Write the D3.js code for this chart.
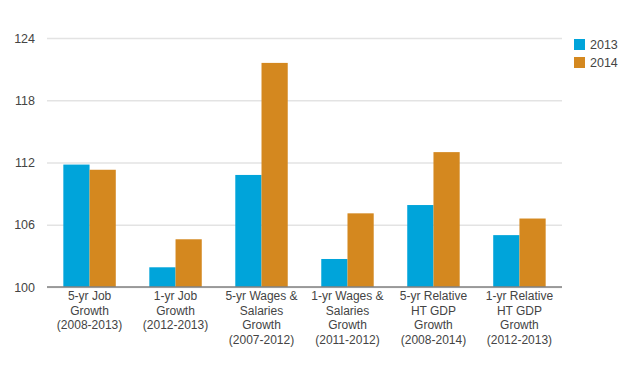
<!DOCTYPE html>
<html>
<head>
<meta charset="utf-8">
<script src="https://cdn.jsdelivr.net/npm/d3@7"></script>
<style>
  body { margin: 0; background: #fff; }
  text { font-family: "Liberation Sans", Arial, sans-serif; }
</style>
</head>
<body>
<div id="chart"></div>
<script>
// categories (each label split into lines)
const categories = [
  ["5-yr Job", "Growth", "(2008-2013)"],
  ["1-yr Job", "Growth", "(2012-2013)"],
  ["5-yr Wages &", "Salaries", "Growth", "(2007-2012)"],
  ["1-yr Wages &", "Salaries", "Growth", "(2011-2012)"],
  ["5-yr Relative", "HT GDP", "Growth", "(2008-2014)"],
  ["1-yr Relative", "HT GDP", "Growth", "(2012-2013)"]
];
const seriesNames = ["2013", "2014"];
const values2013 = [111.8, 101.9, 110.8, 102.7, 107.9, 105.0];
const values2014 = [111.3, 104.6, 121.6, 107.1, 113.0, 106.6];
const yTicks = [100, 106, 112, 118, 124];
const colors = ["#00a4da", "#d4881f"];

const width = 630, height = 366;
const margin = { top: 38, right: 68, bottom: 79, left: 47 };

const svg = d3.select("#chart").append("svg")
  .attr("width", width)
  .attr("height", height);

const x = d3.scaleBand()
  .domain(d3.range(categories.length))
  .range([margin.left, width - margin.right])
  .paddingInner(0.39)
  .paddingOuter(0.19);

const x1 = d3.scaleBand()
  .domain(seriesNames)
  .range([0, x.bandwidth()]);

const y = d3.scaleLinear()
  .domain([100, 124])
  .range([height - margin.bottom, margin.top]);

// gridlines + y labels
const yAxis = svg.append("g")
  .attr("transform", `translate(${margin.left},0)`)
  .call(d3.axisLeft(y).tickValues(yTicks).tickSize(-(width - margin.left - margin.right)).tickPadding(12));
yAxis.select(".domain").remove();
yAxis.selectAll(".tick line").attr("stroke", "#e3e3e3").attr("stroke-width", 1.5);
yAxis.selectAll(".tick text")
  .attr("fill", "#444")
  .attr("font-size", 12.5)
  .attr("font-family", "Liberation Sans, Arial, sans-serif");

// bars
const rows = categories.map((c, i) => ({ i, vals: [values2013[i], values2014[i]] }));
svg.append("g")
  .selectAll("g")
  .data(rows)
  .join("g")
  .attr("transform", d => `translate(${x(d.i)},0)`)
  .selectAll("rect")
  .data(d => d.vals.map((v, k) => ({ k, v })))
  .join("rect")
  .attr("x", d => x1(seriesNames[d.k]))
  .attr("width", x1.bandwidth())
  .attr("y", d => y(d.v))
  .attr("height", d => y(100) - y(d.v))
  .attr("fill", d => colors[d.k]);

// baseline
svg.append("line")
  .attr("x1", margin.left)
  .attr("x2", width - margin.right)
  .attr("y1", y(100))
  .attr("y2", y(100))
  .attr("stroke", "#808080")
  .attr("stroke-width", 1.5);

// category labels
const labels = svg.append("g")
  .selectAll("text")
  .data(categories)
  .join("text")
  .attr("text-anchor", "middle")
  .attr("fill", "#444")
  .attr("font-size", 12)
  .attr("x", (d, i) => x(i) + x.bandwidth() / 2)
  .attr("y", y(100) + 1);
labels.selectAll("tspan")
  .data(d => d)
  .join("tspan")
  .attr("x", function () { return this.parentNode.getAttribute("x"); })
  .attr("dy", (d, j) => j === 0 ? 12 : 14.5)
  .text(d => d);

// legend
const legend = svg.append("g")
  .attr("transform", `translate(574,39)`)
  .selectAll("g")
  .data(seriesNames)
  .join("g")
  .attr("transform", (d, i) => `translate(0,${i * 18})`);
legend.append("rect")
  .attr("width", 11)
  .attr("height", 11)
  .attr("fill", (d, i) => colors[i]);
legend.append("text")
  .attr("x", 16)
  .attr("y", 10)
  .attr("fill", "#444")
  .attr("font-size", 12.5)
  .text(d => d);
</script>
</body>
</html>
